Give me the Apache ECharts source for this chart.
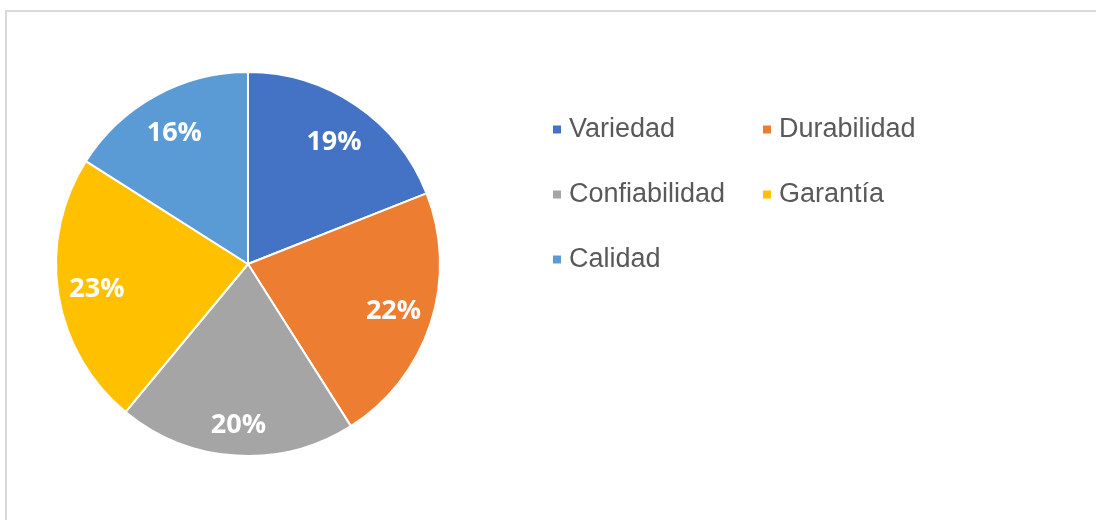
<!DOCTYPE html>
<html>
<head>
<meta charset="utf-8">
<title>Pie</title>
<script src="https://cdn.jsdelivr.net/npm/echarts@6/dist/echarts.min.js"></script>
<style>
    html, body { margin: 0; padding: 0; background: #fff; }
    #pieChart { width: 1096px; height: 520px; }
</style>
</head>
<body>
<div id="pieChart"></div>
<script>
// datos del grafico
var categorias = ['Variedad', 'Durabilidad', 'Confiabilidad', 'Garantía', 'Calidad'];
var valores = [19, 22, 20, 23, 16];
var colores = ['#4472C4', '#ED7D31', '#A5A5A5', '#FFC000', '#5B9BD5'];
var leyendaCol1 = ['Variedad', 'Confiabilidad', 'Calidad'];
var leyendaCol2 = ['Durabilidad', 'Garantía'];

var pieData = categorias.map(function (name, i) {
    return { name: name, value: valores[i], itemStyle: { color: colores[i] } };
});
// serie solo para las etiquetas (anillo invisible, la etiqueta cae en su centro)
var labelData = categorias.map(function (name, i) {
    return { name: name, value: valores[i] };
});
// ajuste vertical de cada etiqueta (px), como las acomoda Excel
var labelDy = [5, 0, 9, 1, 3];

var legendText = {
    color: '#595959',
    fontFamily: 'Liberation Sans, Arial, sans-serif',
    fontSize: 27,
    padding: [0, 0, 0, 2]
};

var chart = echarts.init(document.getElementById('pieChart'), null, { renderer: 'canvas' });
chart.setOption({
    animation: false,
    graphic: [{
        type: 'rect',
        silent: true,
        shape: { x: 6, y: 11, width: 1200, height: 700 },
        style: { fill: 'none', stroke: '#d9d9d9', lineWidth: 2 }
    }],
    legend: [
        {
            orient: 'vertical',
            left: 546,
            top: 111,
            itemWidth: 10,
            itemHeight: 10,
            itemGap: 38,
            icon: 'rect',
            selectedMode: false,
            data: leyendaCol1,
            textStyle: legendText
        },
        {
            orient: 'vertical',
            left: 756,
            top: 111,
            itemWidth: 10,
            itemHeight: 10,
            itemGap: 38,
            icon: 'rect',
            selectedMode: false,
            data: leyendaCol2,
            textStyle: legendText
        }
    ],
    series: [
        {
            type: 'pie',
            center: [248, 264],
            radius: 192,
            startAngle: 90,
            silent: true,
            itemStyle: { borderColor: '#fff', borderWidth: 2 },
            label: { show: false },
            labelLine: { show: false },
            data: pieData
        },
        {
            type: 'pie',
            center: [248, 264],
            radius: [108, 192],
            startAngle: 90,
            silent: true,
            legendHoverLink: false,
            itemStyle: { color: 'rgba(0,0,0,0)', borderWidth: 0 },
            label: {
                show: true,
                position: 'inside',
                formatter: '{c}%',
                color: '#fff',
                fontFamily: 'Open Sans, sans-serif',
                fontWeight: 'bold',
                fontSize: 27
            },
            labelLayout: function (params) {
                return { dy: labelDy[params.dataIndex] };
            },
            labelLine: { show: false },
            data: labelData
        }
    ]
});
</script>
</body>
</html>
